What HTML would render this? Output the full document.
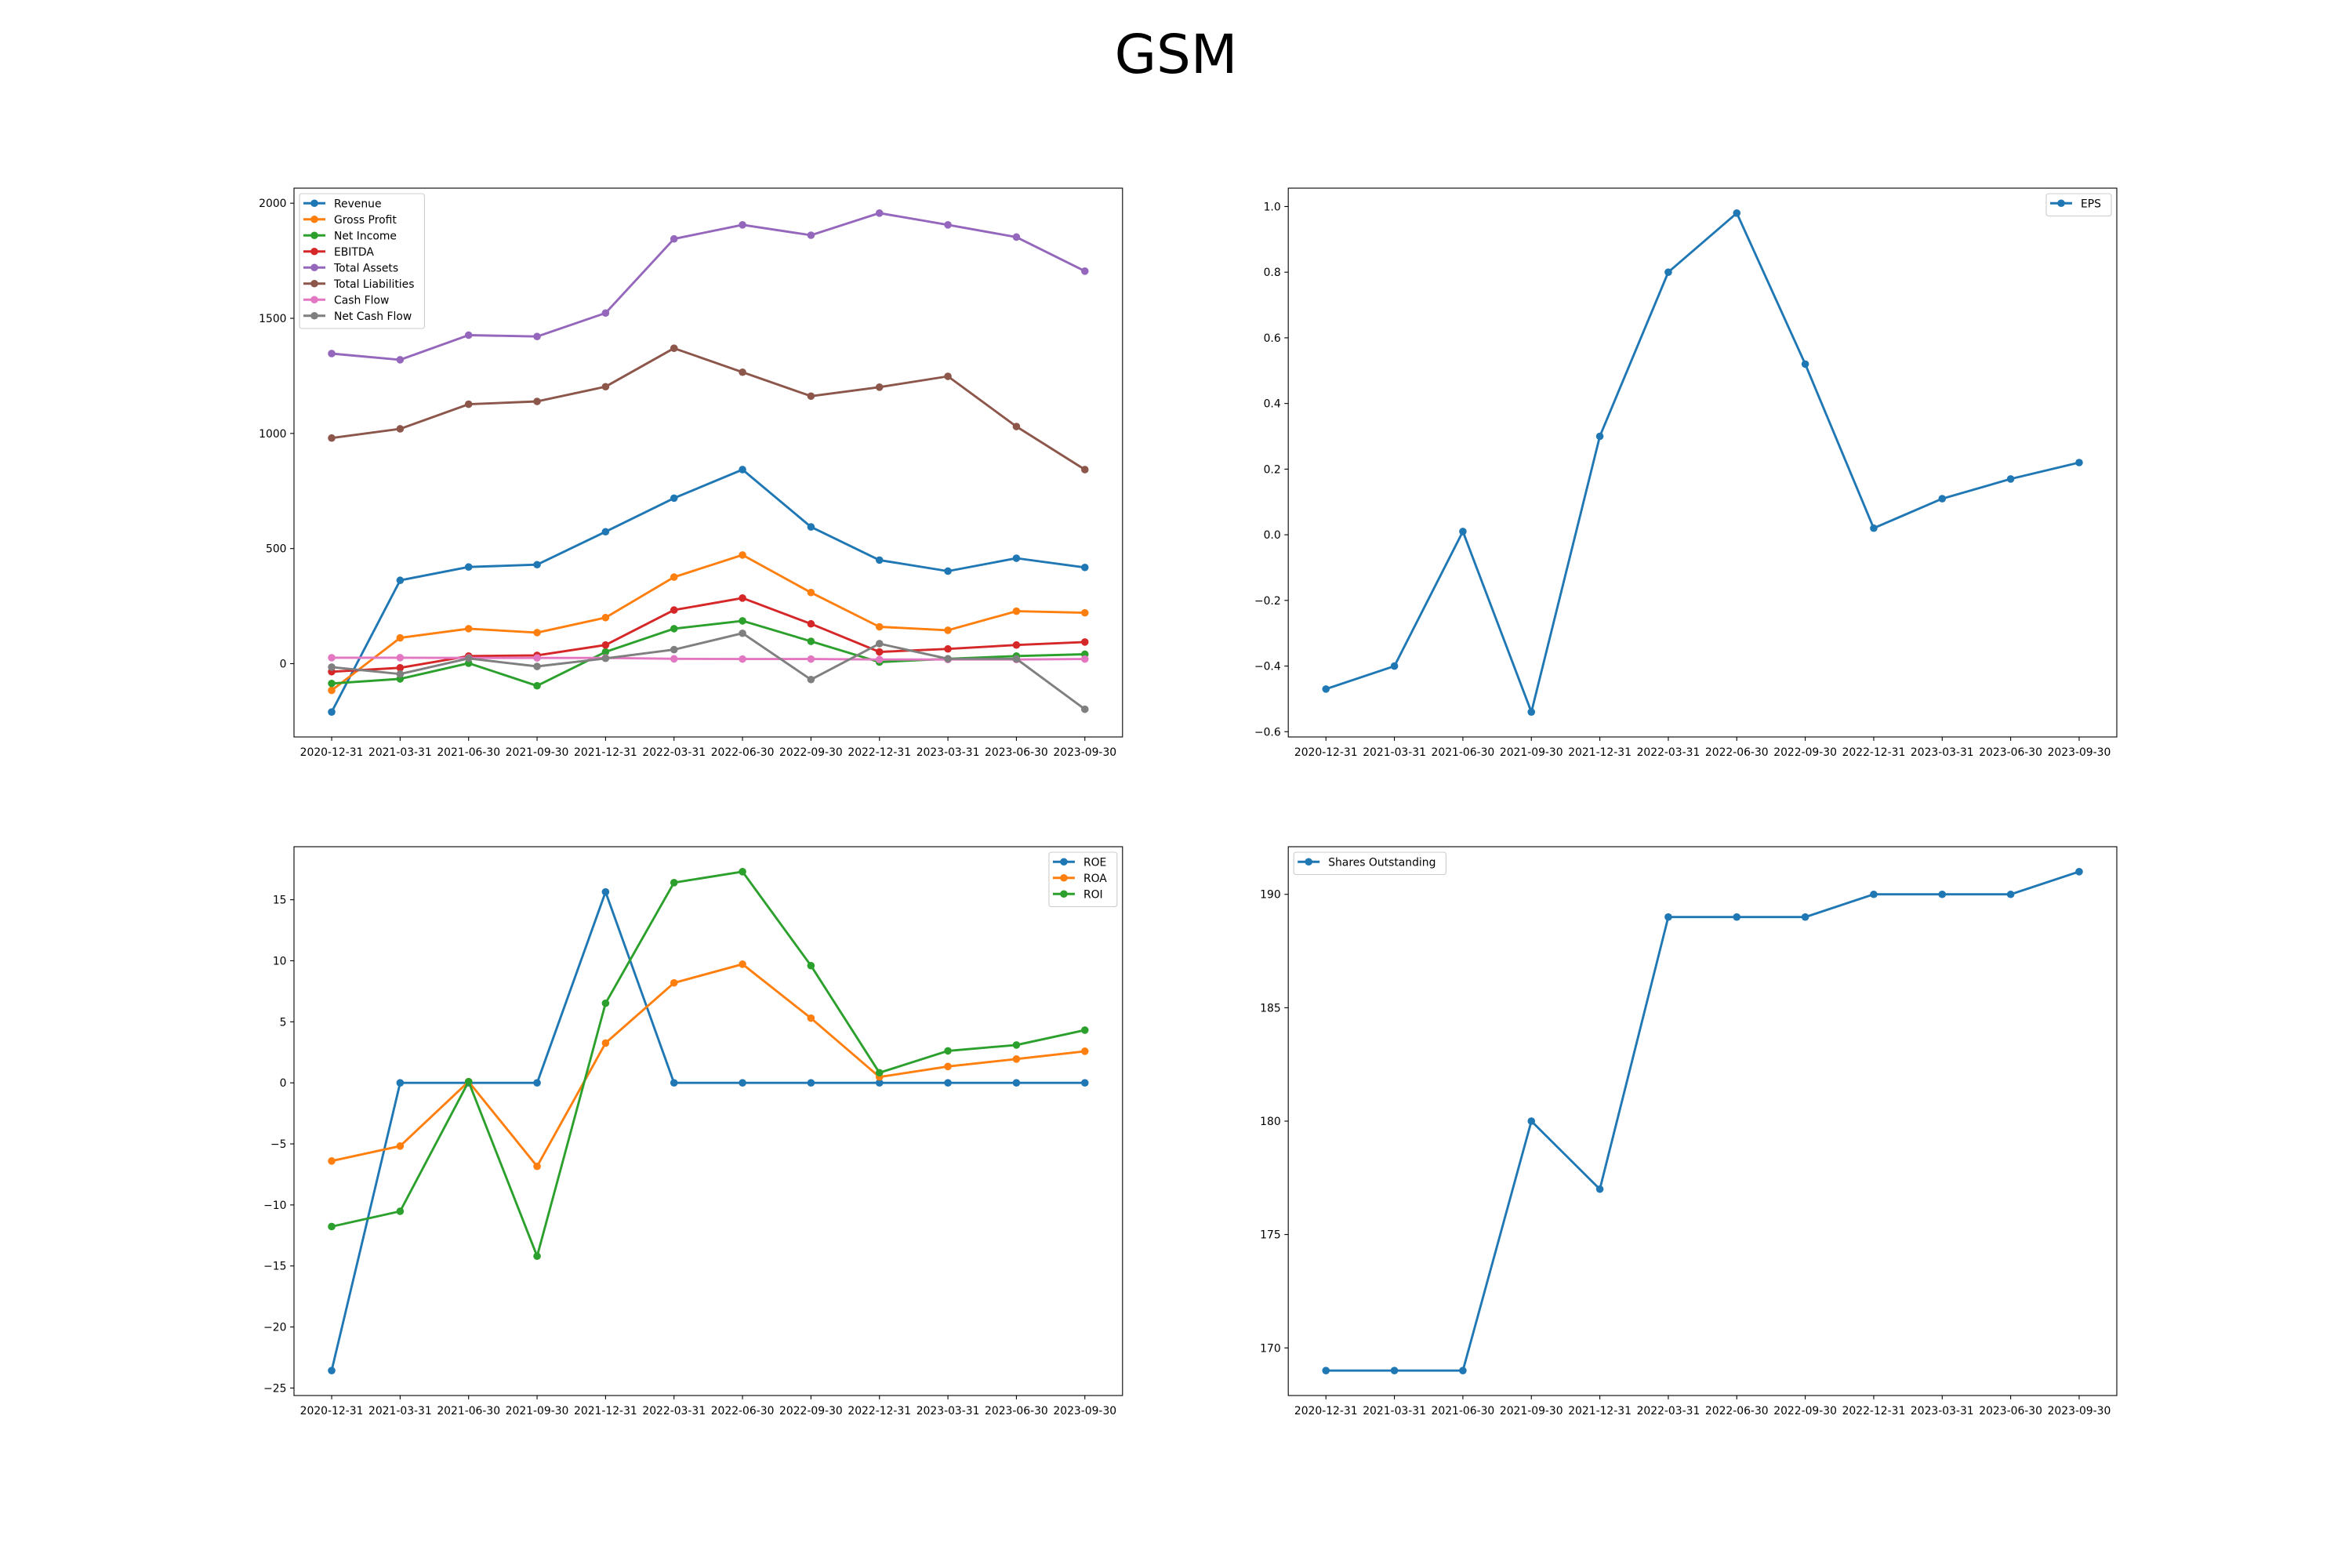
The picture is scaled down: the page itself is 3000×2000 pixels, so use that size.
<!DOCTYPE html>
<html><head><meta charset="utf-8"><style>
html,body{margin:0;padding:0;background:#fff;}
svg{display:block;font-family:"DejaVu Sans","Liberation Sans",sans-serif;}
</style></head><body>
<svg id="fig" width="3000" height="2000" viewBox="0 0 3000 2000">
<rect width="3000" height="2000" fill="#fff"/>
<text x="1500" y="93" text-anchor="middle" font-size="69" fill="#000">GSM</text>
</svg>
<script>
const dates = ["2020-12-31","2021-03-31","2021-06-30","2021-09-30","2021-12-31","2022-03-31","2022-06-30","2022-09-30","2022-12-31","2023-03-31","2023-06-30","2023-09-30"];
const revenue = [-210,362,420,430,573,719,843,594,450,402,458,418];
const grossProfit = [-116,112,152,135,200,376,472,309,160,145,228,221];
const netIncome = [-86,-66,2,-96,51,152,186,97,7,21,33,41];
const ebitda = [-35,-18,33,36,81,233,285,173,51,64,81,94];
const totalAssets = [1347,1320,1427,1421,1523,1845,1906,1861,1957,1906,1853,1705];
const totalLiabilities = [980,1020,1127,1139,1203,1370,1266,1162,1201,1248,1030,843];
const cashFlow = [26,26,25,25,25,21,20,20,18,18,18,20];
const netCashFlow = [-15,-45,23,-12,23,61,132,-69,87,21,21,-198];
const eps = [-0.47,-0.40,0.01,-0.54,0.30,0.80,0.98,0.52,0.02,0.11,0.17,0.22];
const roe = [-23.57,0,0,0,15.64,0,0,0,0,0,0,0];
const roa = [-6.4,-5.18,0.1,-6.84,3.26,8.19,9.72,5.3,0.48,1.34,1.95,2.59];
const roi = [-11.77,-10.52,0.1,-14.2,6.52,16.4,17.3,9.6,0.83,2.62,3.1,4.32];
const shares = [169,169,169,180,177,189,189,189,190,190,190,191];
const ticksFin = [0,500,1000,1500,2000];
const ticksEps = [-0.6,-0.4,-0.2,0.0,0.2,0.4,0.6,0.8,1.0];
const ticksRatio = [-25,-20,-15,-10,-5,0,5,10,15];
const ticksShares = [170,175,180,185,190];

const NS="http://www.w3.org/2000/svg";
const fig=document.getElementById('fig');
function mk(tag,attrs,parent){const e=document.createElementNS(NS,tag);for(const k in attrs)e.setAttribute(k,attrs[k]);(parent||fig).appendChild(e);return e;}
const LW=2.9, MR=4.8;
function chart(cfg){
  const L=cfg.x,T=cfg.y,W=1056.8,H=700;
  const g=mk('g',{});
  
  
  let mn=Infinity,mx=-Infinity;
  cfg.series.forEach(s=>s.v.forEach(v=>{mn=Math.min(mn,v);mx=Math.max(mx,v);}));
  const pad=(mx-mn)*0.05; const y0=mn-pad,y1=mx+pad;
  const xs=i=>L+(i+0.55)/12.1*W;
  const ys=v=>T+H-(v-y0)/(y1-y0)*H;
  dates.forEach((d,i)=>{
    const x=xs(i);
    mk('line',{x1:x,x2:x,y1:T+H,y2:T+H+4.9,stroke:'#000','stroke-width':1.1},g);
    const t=mk('text',{x:x,y:T+H+24,'text-anchor':'middle','font-size':13.9,fill:'#000'},g);
    t.textContent=d;
    
    
  });
  cfg.ticks.forEach(v=>{
    const y=ys(v);
    mk('line',{x1:L-4.9,x2:L,y1:y,y2:y,stroke:'#000','stroke-width':1.1},g);
    const t=mk('text',{x:L-9.5,y:y+5,'text-anchor':'end','font-size':13.9,fill:'#000'},g);
    t.textContent=cfg.fmt(v);
    
    
  });
  cfg.series.forEach(s=>{
    const p=s.v.map((v,i)=>xs(i).toFixed(1)+','+ys(v).toFixed(1)).join(' ');
    const pl=mk('polyline',{points:p,fill:'none',stroke:s.c,'stroke-width':LW,'stroke-linejoin':'round','stroke-linecap':'round'},g);
    
    
    s.v.forEach((v,i)=>{
      const c=mk('circle',{cx:xs(i),cy:ys(v),r:MR,fill:s.c},g);
      
      
    });
  });
  mk('rect',{x:L,y:T,width:W,height:H,fill:'none',stroke:'#000','stroke-width':1.1},g);
  const lg=mk('g',{},g);
  
  
  const box=mk('rect',{rx:3,fill:'#fff','fill-opacity':0.8,stroke:'#ccc','stroke-width':1.1},lg);
  const rowH=20.5; let maxW=0; const texts=[];
  cfg.series.forEach((s,i)=>{
    const t=mk('text',{y:0,'font-size':13.9,fill:'#000'},lg);
    t.textContent=s.label;
    
    
    texts.push(t); maxW=Math.max(maxW,t.getComputedTextLength());
  });
  const bw=10+28+11+maxW+8, bh=cfg.series.length*rowH+8;
  const bx=cfg.legendRight? L+W-7-bw : L+7, by=T+7;
  box.setAttribute('x',bx);box.setAttribute('y',by);box.setAttribute('width',bw);box.setAttribute('height',bh);
  cfg.series.forEach((s,i)=>{
    const cy=by+2+rowH*(i+0.5);
    mk('line',{x1:bx+5,x2:bx+33,y1:cy,y2:cy,stroke:s.c,'stroke-width':LW},lg);
    mk('circle',{cx:bx+19,cy:cy,r:MR,fill:s.c},lg);
    texts[i].setAttribute('x',bx+44);texts[i].setAttribute('y',cy+5);
  });
}
const C=['#1f77b4','#ff7f0e','#2ca02c','#d62728','#9467bd','#8c564b','#e377c2','#7f7f7f'];
chart({name:'financials-chart',x:375,y:240,ticks:ticksFin,fmt:v=>String(v),legendRight:false,series:[
 {id:'revenue',label:'Revenue',v:revenue,c:C[0]},
 {id:'gross-profit',label:'Gross Profit',v:grossProfit,c:C[1]},
 {id:'net-income',label:'Net Income',v:netIncome,c:C[2]},
 {id:'ebitda',label:'EBITDA',v:ebitda,c:C[3]},
 {id:'total-assets',label:'Total Assets',v:totalAssets,c:C[4]},
 {id:'total-liabilities',label:'Total Liabilities',v:totalLiabilities,c:C[5]},
 {id:'cash-flow',label:'Cash Flow',v:cashFlow,c:C[6]},
 {id:'net-cash-flow',label:'Net Cash Flow',v:netCashFlow,c:C[7]}]});
chart({name:'eps-chart',x:1643.2,y:240,ticks:ticksEps,fmt:v=>v.toFixed(1).replace('-','\u2212'),legendRight:true,series:[
 {id:'eps',label:'EPS',v:eps,c:C[0]}]});
chart({name:'ratios-chart',x:375,y:1080,ticks:ticksRatio,fmt:v=>String(v).replace('-','\u2212'),legendRight:true,series:[
 {id:'roe',label:'ROE',v:roe,c:C[0]},
 {id:'roa',label:'ROA',v:roa,c:C[1]},
 {id:'roi',label:'ROI',v:roi,c:C[2]}]});
chart({name:'shares-chart',x:1643.2,y:1080,ticks:ticksShares,fmt:v=>String(v),legendRight:false,series:[
 {id:'shares-outstanding',label:'Shares Outstanding',v:shares,c:C[0]}]});
</script>
</body></html>
